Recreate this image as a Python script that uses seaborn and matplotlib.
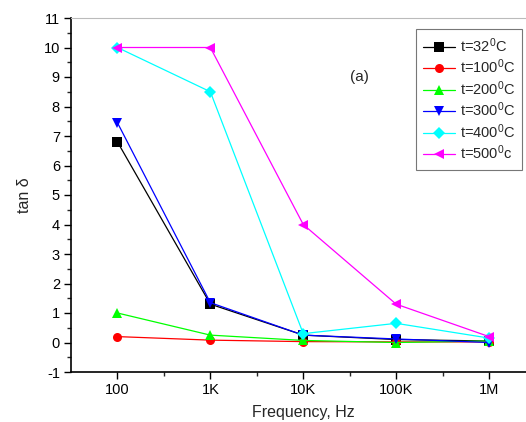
import matplotlib
matplotlib.use("Agg")
import matplotlib.pyplot as plt
import matplotlib.ticker as mticker
import numpy as np
import pandas as pd
import seaborn as sns

# frequencias (Hz) e rotulos do eixo x
freq = [1e2, 1e3, 1e4, 1e5, 1e6]
freq_labels = ['100', '1K', '10K', '100K', '1M']

t32 = [6.8, 1.3, 0.25, 0.1, 0.05]
t100 = [0.2, 0.08, 0.03, 0.02, 0.02]
t200 = [1.0, 0.25, 0.07, 0.0, 0.05]
t300 = [7.45, 1.35, 0.25, 0.12, 0.0]
t400 = [10.0, 8.5, 0.3, 0.65, 0.15]
t500 = [10.0, 10.0, 4.0, 1.3, 0.2]

nomes = ['t=32$^0$C', 't=100$^0$C', 't=200$^0$C', 't=300$^0$C', 't=400$^0$C', 't=500$^0$c']
cores = ['black', 'red', '#00ff00', 'blue', 'cyan', 'magenta']
marcadores = ['s', 'o', '^', 'v', 'D', '<']

df = pd.DataFrame({
    'freq': freq * 6,
    'tan': t32 + t100 + t200 + t300 + t400 + t500,
    'serie': [n for n in nomes for _ in freq],
})

sns.set_style('white')
plt.rcParams['font.family'] = ['Liberation Sans', 'DejaVu Sans']
plt.rcParams['mathtext.default'] = 'regular'
plt.rcParams['axes.unicode_minus'] = False

fig = plt.figure(figsize=(5.26, 4.22), dpi=100)
ax = fig.add_axes([71/526, 50/422, 464.5/526, 354/422])

sns.lineplot(data=df, x='freq', y='tan', hue='serie', style='serie',
             palette=dict(zip(nomes, cores)), markers=dict(zip(nomes, marcadores)),
             dashes=False, linewidth=0.9, markersize=6.5, markeredgewidth=0,
             ax=ax, legend=True)

ax.set_xscale('log')
ax.set_xlim(10**1.5, 10**6.5)
ax.set_ylim(-1, 11)
ax.xaxis.set_major_locator(mticker.FixedLocator(freq))
ax.xaxis.set_major_formatter(mticker.FixedFormatter(freq_labels))
ax.xaxis.set_minor_locator(mticker.FixedLocator([10**(k + 0.5) for k in range(2, 6)]))
ax.xaxis.set_minor_formatter(mticker.NullFormatter())
ax.yaxis.set_major_locator(mticker.MultipleLocator(1))
ax.yaxis.set_minor_locator(mticker.MultipleLocator(0.5))

ax.tick_params(axis='both', which='major', direction='out', length=5, width=1,
               labelsize=10.5, colors='black', left=True, bottom=True, pad=3)
ax.tick_params(axis='both', which='minor', direction='out', length=3, width=1,
               left=True, bottom=True)

for s in ['left', 'bottom']:
    ax.spines[s].set_color('black')
    ax.spines[s].set_linewidth(1.2)
ax.spines['top'].set_color('#bbbbbb')
ax.spines['top'].set_linewidth(0.8)
ax.spines['right'].set_visible(False)

ax.set_xlabel('Frequency, Hz', fontsize=11.5, labelpad=6)
ax.set_ylabel('tan δ', fontsize=11.5, labelpad=8)

ax.text(10**4.6, 9.0, '(a)', fontsize=11, ha='center', va='center')

leg = ax.legend(loc='upper left', bbox_to_anchor=(345/464.5, 1 - 11/354),
                borderaxespad=0, fontsize=10.5, frameon=True, fancybox=False,
                edgecolor='#555555', handlelength=2.2, handletextpad=0.3,
                borderpad=0.5, labelspacing=0.2, title=None)
leg.get_frame().set_linewidth(0.8)

fig.savefig('out.png', dpi=100)
